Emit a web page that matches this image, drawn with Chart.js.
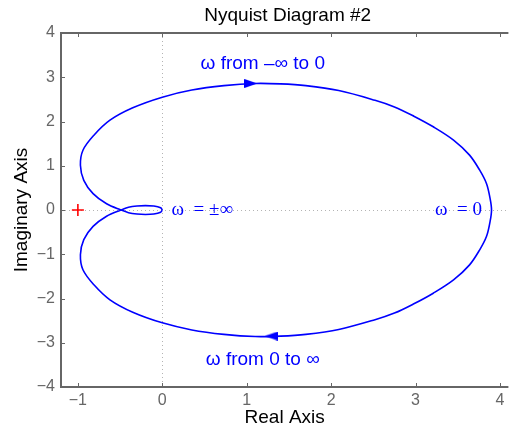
<!DOCTYPE html>
<html>
<head>
<meta charset="utf-8">
<script src="https://cdn.jsdelivr.net/npm/chart.js@4"></script>
<style>
  html, body { margin: 0; padding: 0; background: #fff; }
  #wrap { width: 516px; height: 427px; }
</style>
</head>
<body>
<div id="wrap"><canvas id="c" width="516" height="427"></canvas></div>
<script>
// ---- data ----
const chartTitle = 'Nyquist Diagram #2';
const xTitle = 'Real Axis';
const yTitle = 'Imaginary Axis';
const xTicks = [-1, 0, 1, 2, 3, 4];
const yTicks = [-4, -3, -2, -1, 0, 1, 2, 3, 4];

// Nyquist curve, ordered from omega = -inf to +inf
const re = [
  0.00, -0.02, -0.10, -0.20, -0.30, -0.40,
  -0.49,
  -0.66, -0.82, -0.93, -0.97, -0.94, -0.81, -0.62, -0.35, 0.00, 0.35, 0.73, 1.10, 1.40, 1.70, 2.09, 2.52, 2.75, 2.98, 3.21, 3.45, 3.64, 3.76, 3.84, 3.88,
  3.90,
  3.88, 3.84, 3.76, 3.64, 3.45, 3.21, 2.98, 2.75, 2.52, 2.09, 1.70, 1.40, 1.10, 0.73, 0.35, 0.00, -0.35, -0.62, -0.81, -0.94, -0.97, -0.93, -0.82, -0.66,
  -0.49,
  -0.40, -0.30, -0.20, -0.10, -0.02, 0.00
];
const im = [
  0.00, -0.05, -0.09, -0.10, -0.09, -0.06,
  0.00,
  0.14, 0.37, 0.67, 1.01, 1.35, 1.69, 2.03, 2.31, 2.55, 2.71, 2.81, 2.86, 2.85, 2.81, 2.70, 2.48, 2.33, 2.12, 1.88, 1.58, 1.24, 0.90, 0.60, 0.29,
  0.00,
  -0.29, -0.60, -0.90, -1.24, -1.58, -1.88, -2.12, -2.33, -2.48, -2.70, -2.81, -2.85, -2.86, -2.81, -2.71, -2.55, -2.31, -2.03, -1.69, -1.35, -1.01, -0.67, -0.37, -0.14,
  0.00,
  0.06, 0.09, 0.10, 0.09, 0.05, 0.00
];

// direction arrows on the curve
const arrowRe = [1.05, 1.29];
const arrowIm = [2.86, -2.85];
const arrowDir = [0, 180];

// critical point -1 + 0j
const critRe = [-1];
const critIm = [0];

// annotations
const noteText = ['\u03c9 from \u2013\u221e to 0', '\u03c9 from 0 to \u221e', '\u03c9  = \u00b1\u221e', '\u03c9  = 0'];
const noteRe = [1.19, 1.19, 0.11, 3.23];
const noteIm = [3.19, -3.51, 0, 0];

// ---- styles ----
const BLUE = '#0000ff';
const AXIS = '#666666';
const SANS = '"Liberation Sans", Arial, Helvetica, sans-serif';
const SERIF = '"Liberation Serif", "Times New Roman", serif';
const noteStyle = [
  {font: '19px ' + SANS, align: 'center', dy: 0},
  {font: '19px ' + SANS, align: 'center', dy: 0},
  {font: '19px ' + SERIF, align: 'left', dy: 5},
  {font: '19px ' + SERIF, align: 'left', dy: 5}
];

function pts(xs, ys) { return xs.map((x, i) => ({x: x, y: ys[i]})); }

// arrow head image
const arrowImg = document.createElement('canvas');
arrowImg.width = 13; arrowImg.height = 9;
(function () {
  const g = arrowImg.getContext('2d');
  g.fillStyle = BLUE;
  g.beginPath(); g.moveTo(0, 0); g.lineTo(13, 4.5); g.lineTo(0, 9); g.closePath(); g.fill();
})();

const decor = {
  id: 'decor',
  beforeDatasetsDraw(chart) {
    const {ctx, chartArea: a, scales} = chart;
    ctx.save();
    ctx.strokeStyle = AXIS;
    ctx.lineWidth = 1;
    // inside ticks
    ctx.beginPath();
    xTicks.forEach(v => {
      const p = Math.round(scales.x.getPixelForValue(v)) + 0.5;
      ctx.moveTo(p, a.bottom); ctx.lineTo(p, a.bottom - 4);
      ctx.moveTo(p, a.top); ctx.lineTo(p, a.top + 4);
    });
    yTicks.forEach(v => {
      const p = Math.round(scales.y.getPixelForValue(v)) + 0.5;
      ctx.moveTo(a.left, p); ctx.lineTo(a.left + 4, p);
    });
    ctx.stroke();
    // box (left, top, bottom; right edge lies outside the picture)
    ctx.lineWidth = 2;
    ctx.beginPath();
    ctx.moveTo(a.right, a.top); ctx.lineTo(a.left, a.top);
    ctx.lineTo(a.left, a.bottom); ctx.lineTo(a.right, a.bottom);
    ctx.stroke();
    ctx.restore();
  },
  afterDraw(chart) {
    const {ctx, chartArea: a, scales} = chart;
    ctx.save();
    // title
    ctx.fillStyle = '#000';
    ctx.font = '19px ' + SANS;
    ctx.textAlign = 'center';
    ctx.textBaseline = 'middle';
    ctx.fillText(chartTitle, (a.left + a.right) / 2 + 3, 16);
    // notes
    ctx.fillStyle = BLUE;
    noteText.forEach((t, i) => {
      const s = noteStyle[i];
      ctx.font = s.font;
      ctx.textAlign = s.align;
      ctx.textBaseline = 'alphabetic';
      ctx.fillText(t, scales.x.getPixelForValue(noteRe[i]), scales.y.getPixelForValue(noteIm[i]) + s.dy);
    });
    ctx.restore();
  }
};

const minus = v => (v < 0 ? '\u2212' + Math.abs(v) : String(v));
const zeroGrid = c => (c.tick && c.tick.value === 0 ? '#b4b4b4' : 'rgba(0,0,0,0)');

new Chart(document.getElementById('c'), {
  type: 'scatter',
  data: {
    datasets: [
      {
        data: pts(arrowRe, arrowIm),
        showLine: false,
        pointStyle: arrowImg,
        pointRotation: arrowDir,
        pointRadius: 6,
        order: 0
      },
      {
        data: pts(critRe, critIm),
        showLine: false,
        pointStyle: 'cross',
        pointRadius: 6,
        borderColor: '#ff0000',
        borderWidth: 1.6,
        order: 1
      },
      {
        data: pts(re, im),
        showLine: true,
        borderColor: BLUE,
        borderWidth: 1.6,
        pointRadius: 0,
        tension: 0.35,
        fill: false,
        order: 2
      }
    ]
  },
  options: {
    responsive: false,
    animation: false,
    events: [],
    layout: {padding: {top: 33, left: 0, right: 0, bottom: 0}},
    plugins: {legend: {display: false}, tooltip: {enabled: false}, title: {display: false}},
    scales: {
      x: {
        type: 'linear', min: -1.2, max: 4.1,
        afterBuildTicks: s => { s.ticks = xTicks.map(v => ({value: v})); },
        afterFit: s => { s.height = 40; },
        grid: {color: zeroGrid, drawTicks: false, lineWidth: 1},
        border: {display: false, dash: [1, 3]},
        ticks: {color: AXIS, font: {family: SANS, size: 16}, padding: 4, maxRotation: 0, autoSkip: false, callback: v => minus(v)},
        title: {display: true, text: xTitle, color: '#000', font: {family: SANS, size: 19, lineHeight: 1}, padding: {top: 0, bottom: 0}}
      },
      y: {
        type: 'linear', min: -4, max: 4,
        afterBuildTicks: s => { s.ticks = yTicks.map(v => ({value: v})); },
        afterFit: s => { s.width = 61; },
        grid: {color: zeroGrid, drawTicks: false, lineWidth: 1},
        border: {display: false, dash: [1, 3]},
        ticks: {color: AXIS, font: {family: SANS, size: 16}, padding: 6, autoSkip: false, callback: v => minus(v)},
        title: {display: true, text: yTitle, color: '#000', font: {family: SANS, size: 19, lineHeight: 1}, padding: {top: 12, bottom: 0}}
      }
    }
  },
  plugins: [decor]
});
</script>
</body>
</html>
